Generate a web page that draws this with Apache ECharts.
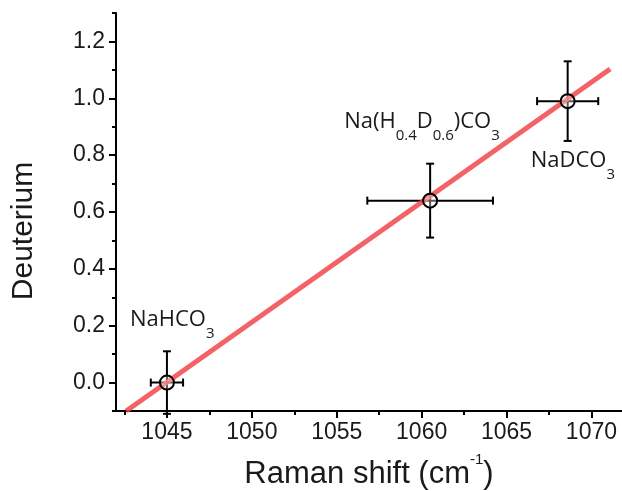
<!DOCTYPE html>
<html>
<head>
<meta charset="utf-8">
<script src="https://cdn.jsdelivr.net/npm/echarts@6/dist/echarts.min.js"></script>
<style>
  html, body { margin: 0; padding: 0; background: #fff; }
  #main { width: 622px; height: 491px; }
</style>
</head>
<body>
<div id="main"></div>
<script>
// measured points (Raman shift vs deuterium fraction)
var ramanShift = [1045.0, 1060.5, 1068.6];
var deuterium = [0.0, 0.64, 0.99];
var shiftErr = [0.95, 3.7, 1.8];
var deutErr = [0.11, 0.13, 0.14];
var pointNames = [
  '{m|NaHCO}{s|3}',
  '{m|Na(H}{s|0.4}{m|D}{s|0.6}{m|)CO}{s|3}',
  '{m|NaDCO}{s|3}'
];
// linear fit, two ends
var fitX = [1042.6, 1071.1];
var fitY = [-0.1, 1.103];
// ticks
var xMajor = [1045, 1050, 1055, 1060, 1065, 1070];
var xMinor = [1042.5, 1047.5, 1052.5, 1057.5, 1062.5, 1067.5];
var yMajor = [0, 0.2, 0.4, 0.6, 0.8, 1.0, 1.2];
var yMinor = [-0.1, 0.1, 0.3, 0.5, 0.7, 0.9, 1.1, 1.3];

// label offsets relative to the marker box
var labelPos = [[-29, -66], [-78, -82], [-29, 57]];

var chart = echarts.init(document.getElementById('main'));

var errData = [];
var ptData = [];
for (var i = 0; i < ramanShift.length; i++) {
  errData.push([ramanShift[i], deuterium[i], shiftErr[i], deutErr[i]]);
  ptData.push({
    value: [ramanShift[i], deuterium[i]],
    label: { position: labelPos[i] }
  });
}
var fitData = [];
for (var i = 0; i < fitX.length; i++) fitData.push([fitX[i], fitY[i]]);

var txtColor = '#1a1a1a';
var sans = 'Liberation Sans, Arial, sans-serif';

var xBase = {
  type: 'value',
  position: 'bottom',
  min: 1042,
  max: 1071.8,
  splitLine: { show: false }
};
var yBase = {
  type: 'value',
  position: 'left',
  min: -0.1,
  max: 1.3,
  splitLine: { show: false }
};

var option = {
  animation: false,
  backgroundColor: '#fff',
  grid: { left: 116, top: 13, right: 0, bottom: 80, containLabel: false, outerBoundsMode: 'none' },
  xAxis: [
    Object.assign({}, xBase, {
      name: '{t|Raman shift (cm}{p|-1}{t|)}',
      nameLocation: 'middle',
      nameGap: 41,
      nameTextStyle: {
        rich: {
          t: { fontFamily: sans, fontSize: 31, lineHeight: 44, color: txtColor, verticalAlign: 'middle' },
          p: { fontFamily: sans, fontSize: 15, lineHeight: 15, color: txtColor, verticalAlign: 'top' }
        }
      },
      axisLine: { onZero: false, lineStyle: { color: '#000', width: 2 } },
      axisTick: { customValues: xMajor, length: 7, lineStyle: { color: '#000', width: 2 } },
      axisLabel: {
        customValues: xMajor, margin: 10, fontFamily: sans, fontSize: 23, color: txtColor,
        formatter: function (v) { return String(v); }
      }
    }),
    Object.assign({}, xBase, {
      axisLine: { show: false, onZero: false },
      axisTick: { customValues: xMinor, length: 4, lineStyle: { color: '#000', width: 2 } },
      axisLabel: { show: false }
    })
  ],
  yAxis: [
    Object.assign({}, yBase, {
      name: 'Deuterium',
      nameLocation: 'middle',
      nameGap: 77,
      nameTextStyle: { fontFamily: sans, fontSize: 30, color: txtColor, padding: [0, 38, 0, 0] },
      axisLine: { show: true, onZero: false, lineStyle: { color: '#000', width: 2 } },
      axisTick: { show: true, customValues: yMajor, length: 7, lineStyle: { color: '#000', width: 2 } },
      axisLabel: {
        customValues: yMajor, margin: 11, fontFamily: sans, fontSize: 23, color: txtColor,
        formatter: function (v) { return v.toFixed(1); }
      }
    }),
    Object.assign({}, yBase, {
      axisLine: { show: false, onZero: false },
      axisTick: { show: true, customValues: yMinor, length: 4, lineStyle: { color: '#000', width: 2 } },
      axisLabel: { show: false }
    })
  ],
  series: [
    {
      // error bars
      type: 'custom',
      xAxisIndex: 0,
      yAxisIndex: 0,
      encode: { x: 0, y: 1 },
      data: errData,
      z: 2,
      renderItem: function (params, api) {
        var x = api.value(0), y = api.value(1), xe = api.value(2), ye = api.value(3);
        var l = api.coord([x - xe, y]);
        var r = api.coord([x + xe, y]);
        var t = api.coord([x, y + ye]);
        var b = api.coord([x, y - ye]);
        var cap = 4;
        var st = { stroke: '#000', lineWidth: 2 };
        return {
          type: 'group',
          children: [
            { type: 'line', shape: { x1: l[0], y1: l[1], x2: r[0], y2: r[1] }, style: st },
            { type: 'line', shape: { x1: l[0], y1: l[1] - cap, x2: l[0], y2: l[1] + cap }, style: st },
            { type: 'line', shape: { x1: r[0], y1: r[1] - cap, x2: r[0], y2: r[1] + cap }, style: st },
            { type: 'line', shape: { x1: t[0], y1: t[1], x2: b[0], y2: b[1] }, style: st },
            { type: 'line', shape: { x1: t[0] - cap, y1: t[1], x2: t[0] + cap, y2: t[1] }, style: st },
            { type: 'line', shape: { x1: b[0] - cap, y1: b[1], x2: b[0] + cap, y2: b[1] }, style: st }
          ]
        };
      }
    },
    {
      // linear fit
      type: 'line',
      data: fitData,
      showSymbol: false,
      symbol: 'none',
      z: 3,
      lineStyle: { color: '#f0474c', width: 5, opacity: 0.85 }
    },
    {
      type: 'scatter',
      data: ptData,
      symbol: 'circle',
      symbolSize: 14,
      z: 4,
      itemStyle: { color: 'rgba(255,255,255,0.35)', borderColor: '#000', borderWidth: 2, opacity: 1 },
      label: {
        show: true,
        formatter: function (p) { return pointNames[p.dataIndex]; },
        rich: {
          m: { fontFamily: 'Open Sans', fontSize: 22, lineHeight: 22, color: txtColor, verticalAlign: 'top' },
          s: { fontFamily: 'Open Sans', fontSize: 15, lineHeight: 50, color: txtColor, verticalAlign: 'middle' }
        }
      },
      emphasis: { disabled: true }
    }
  ]
};

chart.setOption(option);
</script>
</body>
</html>
